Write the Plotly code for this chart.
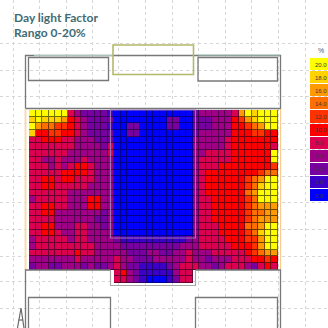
import plotly.graph_objects as go

# Daylight factor (%), by floor-plan zone
dlf_left = [
 [20,20,20,20,20,20,8,6,4,4,4,4,2],
 [18,20,18,18,18,16,10,8,6,4,4,4,4],
 [20,16,14,14,12,12,10,8,6,4,4,4,2],
 [18,10,10,12,12,10,10,8,6,4,4,4,4],
 [8,8,10,10,10,8,8,6,6,6,4,4,4],
 [8,8,8,8,8,8,8,6,6,6,6,4,8],
 [8,8,8,8,8,8,6,6,6,6,6,6,8],
 [8,8,6,6,8,6,6,6,8,6,6,6,6],
 [8,8,8,6,8,6,8,10,10,8,6,6,6],
 [8,8,8,8,8,10,10,10,10,8,6,6,6],
 [8,8,10,10,8,10,10,8,8,8,6,6,6],
 [8,8,10,10,8,8,8,8,8,6,6,6,6],
 [8,8,8,8,8,8,6,6,6,6,6,6,6],
 [6,8,8,8,8,8,6,6,6,10,10,6,6],
 [8,8,10,10,8,8,6,6,6,10,10,6,6],
 [8,8,10,10,6,6,6,6,6,6,6,4,6],
 [8,8,8,8,6,6,6,6,6,6,4,4,6],
 [8,8,10,10,6,6,6,8,8,6,6,4,6],
 [8,8,10,10,8,6,6,8,8,6,6,6,6],
 [6,8,8,8,8,8,6,8,8,6,6,6,6],
 [6,8,8,8,8,8,8,8,8,8,6,6,6],
 [8,8,8,8,8,8,8,10,8,8,6,6,6],
 [6,6,6,6,6,6,6,8,6,6,6,6,6],
 [4,6,6,4,4,6,6,6,4,6,4,4,6],
 [None]*13,
 [None]*13,
]
dlf_mid = [
 [0,0,0,0,0,0,0,0,0,0,0,0],
 [0,0,0,0,0,0,0,0,4,4,0,0],
 [0,0,4,4,0,0,0,0,4,4,0,0],
 [0,0,4,4,0,0,0,0,0,0,0,0],
 [0,0,0,0,0,0,0,0,0,0,0,0],
 [0,0,0,0,0,0,0,0,0,0,0,0],
 [0,0,0,0,0,0,0,0,0,0,0,0],
 [0,0,0,0,0,0,0,0,0,0,0,0],
 [0,0,0,0,0,0,0,0,0,0,0,0],
 [0,0,0,0,0,0,0,0,0,0,0,0],
 [0,0,0,0,0,0,0,0,0,0,0,0],
 [0,0,0,0,0,0,0,0,0,0,0,0],
 [0,0,0,0,0,0,0,0,0,0,0,0],
 [0,0,0,0,0,0,0,0,0,0,0,0],
 [0,0,0,0,0,0,0,0,0,0,0,0],
 [0,0,0,0,0,0,0,0,0,0,0,0],
 [0,0,0,0,0,0,0,0,0,0,0,0],
 [0,0,0,0,0,0,0,0,0,0,0,0],
 [0,0,0,0,0,0,0,0,0,0,0,0],
 [4,2,2,2,2,2,2,2,2,2,2,4],
 [6,4,4,4,4,4,4,4,4,4,6,6],
 [6,6,4,4,4,6,6,4,4,6,6,8],
 [8,6,6,4,4,4,6,6,6,6,6,8],
 [8,6,4,4,2,2,2,2,4,6,8,8],
 [8,10,6,4,2,2,2,2,2,6,8,8],
 [8,8,6,4,2,0,0,0,2,4,8,8],
]
dlf_right = [
 [4,6,6,6,6,6,8,16,20,18,20,20,20],
 [4,4,4,6,6,6,10,12,16,18,20,20,20],
 [4,4,4,6,6,6,10,10,12,14,16,20,20],
 [4,6,6,6,6,6,10,10,10,12,12,10,10],
 [6,6,6,6,6,8,10,10,10,10,10,10,10],
 [6,6,6,6,6,8,10,10,10,10,10,10,8],
 [6,6,8,8,8,8,10,10,10,10,10,10,20],
 [6,8,8,8,8,8,10,10,10,10,10,10,20],
 [6,8,8,8,10,10,10,10,10,10,10,10,12],
 [6,8,10,10,10,10,10,10,10,10,12,14,14],
 [6,8,10,10,10,10,10,10,12,14,16,20,20],
 [6,8,10,10,10,10,10,10,12,14,18,20,20],
 [6,8,10,10,10,10,10,10,14,16,20,20,20],
 [6,8,8,10,10,10,10,10,12,14,20,20,20],
 [6,8,8,10,10,10,10,10,12,14,16,16,16],
 [6,8,8,10,10,10,10,10,12,14,14,16,16],
 [6,8,8,10,10,10,10,10,12,14,16,16,16],
 [6,8,8,8,10,10,10,10,14,14,16,20,20],
 [6,8,8,8,10,10,10,10,12,14,18,20,20],
 [6,8,8,8,8,10,10,10,12,12,16,20,20],
 [6,8,8,8,8,8,10,10,10,12,16,20,20],
 [6,6,6,8,8,8,8,8,10,12,14,16,16],
 [6,6,4,6,6,6,8,8,8,10,10,12,10],
 [8,6,6,4,6,8,8,8,6,4,8,10,8],
 [None]*13,
 [None]*13,
]
legend_levels = [20, 18, 16, 14, 12, 10, 8, 6, 4, 2, 0]
legend_labels = ["20.0", "18.0", "16.0", "14.0", "12.0", "10.0", "8.0", "6.0", "4.0", "2.0", "0.0"]
level_colors = ["#0000ff", "#3c00c8", "#7800a0", "#a00088", "#dc0050", "#ff0000",
                "#ff3200", "#ff6e00", "#ff9b00", "#ffd200", "#ffff00"]
line_colors = ["#000088", "#20006c", "#3c0058", "#50004a", "#640030", "#700010",
               "#701800", "#703000", "#704400", "#705c00", "#707000"]
grid_x = [13, 39.5, 66, 92, 118.5, 145, 172, 198, 225, 251, 278, 305]
grid_y = [43.5, 70, 96, 123, 149, 176, 202, 229, 256, 281, 308]

z = [l + m + r for l, m, r in zip(dlf_left, dlf_mid, dlf_right)]
scale = [[i / 10, c] for i, c in enumerate(level_colors)]
line_scale = [[i / 10, c] for i, c in enumerate(line_colors)]

X0, DX, Y0, DY = 32.3, 6.55, 113.3, 6.65
fig = go.Figure()
fig.add_trace(go.Heatmap(z=z, x0=X0, dx=DX, y0=Y0, dy=DY, showscale=False, hoverinfo="skip",
                         colorscale=line_scale, zmin=0, zmax=20))
fig.add_trace(go.Heatmap(z=z, x0=X0, dx=DX, y0=Y0, dy=DY, xgap=1, ygap=1, showscale=False,
                         colorscale=scale, zmin=0, zmax=20))
fig.add_trace(go.Heatmap(z=[[v] for v in legend_levels], x0=319, dx=18, y0=64.5, dy=13.1, ygap=1,
                         showscale=False, colorscale=scale, zmin=0, zmax=20))

GREY = "#77787a"
def rect(x0, y0, x1, y1, color=GREY, width=1.3):
    return dict(type="rect", x0=x0, y0=y0, x1=x1, y1=y1, line=dict(color=color, width=width))
def path(points, color=GREY, width=1.3):
    d = "M" + " L".join(f"{a},{b}" for a, b in points)
    return dict(type="path", path=d, line=dict(color=color, width=width))

shapes = [
    path([(25.5, 108.5), (25.5, 55.5), (280.5, 55.5), (280.5, 108.5), (25.5, 108.5)]),
    path([(34, 55.5), (113, 55.5)], "#a9c4bd", 1.2),
    path([(198, 55), (280, 55)], "#a9cfc4", 1.2),
    rect(28.5, 57.5, 108.5, 80.5),
    rect(198, 57.5, 277.5, 81),
    rect(113, 45, 193.5, 74.5, "#b4b86a", 1.6),
    path([(25.5, 109), (25.5, 270)], "#f8dcb0", 2),
    path([(280.5, 109), (280.5, 270)], "#fbc98a", 1.2),
    rect(110.5, 110, 195.5, 238, "#a070b0", 1.2),
    path([(25.5, 328), (25.5, 270), (110.5, 270)]),
    path([(195.5, 270), (280.5, 270), (280.5, 328)]),
    path([(110.5, 270), (110.5, 285.5), (195.5, 285.5), (195.5, 270)], "#a8a8a8", 1.2),
    path([(28.5, 330), (28.5, 297.5), (110.5, 297.5), (110.5, 330)]),
    path([(195.5, 330), (195.5, 297.5), (277.5, 297.5), (277.5, 330)]),
    path([(17.5, 328), (21, 308), (24, 328)], "#6a6a6a", 1.2),
    path([(18.5, 320), (23, 320)], "#6a6a6a", 1.2),
]

ann = [dict(x=313, y=64.5 + 13.1 * i, text=t, xanchor="left", yanchor="middle", showarrow=False,
            font=dict(size=6, color="#3a3a3a", family="Liberation Sans"))
       for i, t in enumerate(legend_labels)]
ann.append(dict(x=321, y=50.5, text="%", showarrow=False, font=dict(size=7, color="#555555", family="Liberation Sans")))
title_font = dict(size=12, color="#3f6b74", family="Lato")
ann.append(dict(x=12, y=17, text="<b>Day light Factor</b>", xanchor="left", yanchor="middle", showarrow=False, font=title_font))
ann.append(dict(x=12, y=32, text="<b>Rango 0-20%</b>", xanchor="left", yanchor="middle", showarrow=False, font=title_font))

grid_style = dict(showgrid=True, griddash="dot", gridcolor="#d6d6d6", gridwidth=1, showticklabels=False,
                  ticks="", zeroline=False, showline=False, fixedrange=True)
fig.update_layout(width=328, height=328, margin=dict(l=0, r=0, t=0, b=0), paper_bgcolor="white",
                  plot_bgcolor="white", shapes=shapes, annotations=ann,
                  xaxis=dict(range=[0, 328], tickvals=grid_x, **grid_style),
                  yaxis=dict(range=[328, 0], tickvals=grid_y, **grid_style))
fig.write_html("out.html", config={"displayModeBar": False},
               post_script="document.body.style.margin='0';document.documentElement.style.overflow='hidden';")
